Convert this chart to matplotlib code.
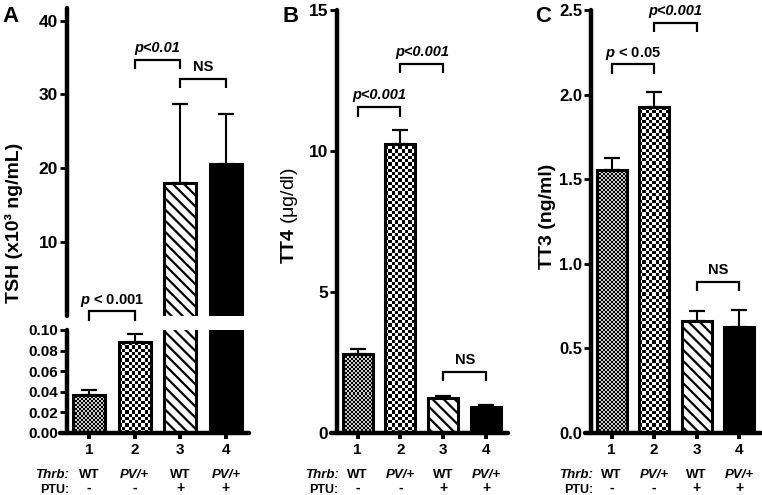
import numpy as np
import matplotlib
matplotlib.use("Agg")
import matplotlib.pyplot as plt
import matplotlib.transforms as mtransforms

plt.rcParams.update({
    "font.family": ["Liberation Sans", "DejaVu Sans"],
    "font.weight": "bold",
    "mathtext.fontset": "custom",
    "mathtext.it": "Liberation Sans:italic:bold",
    "mathtext.bf": "Liberation Sans:bold",
    "mathtext.rm": "Liberation Sans",
    "hatch.linewidth": 1.6,
})

# ---------------- data ----------------
groups = ["1", "2", "3", "4"]
thrb = ["WT", "PV/+", "WT", "PV/+"]
ptu = ["-", "-", "+", "+"]

tsh_mean = [0.037, 0.088, 18.0, 20.6]     # x10^3 ng/mL
tsh_err = [0.005, 0.008, 10.7, 6.7]
tt4_mean = [2.80, 10.25, 1.23, 0.93]      # ug/dl
tt4_err = [0.18, 0.49, 0.09, 0.06]
tt3_mean = [1.555, 1.925, 0.662, 0.628]   # ng/ml
tt3_err = [0.070, 0.092, 0.061, 0.099]

tsh_sig_low = [(1, 2, 0.118, "$p$ < 0.001")]
tsh_sig_up = [(2, 3, 34.7, "p<0.01"), (3, 4, 32.1, "NS")]
tt4_sig = [(1, 2, 11.56, "p<0.001"), (2, 3, 13.09, "p<0.001"), (3, 4, 2.17, "NS")]
tt3_sig = [(1, 2, 2.179, "$p$ < 0.05"), (2, 3, 2.425, "p<0.001"), (3, 4, 0.894, "NS")]

patterns = ["fine", "check", "hatch", "solid"]

# ---------------- figure ----------------
W, H = 762, 495
fig = plt.figure(figsize=(W / 100, H / 100), dpi=100)


def axes_px(l, r, top, bottom):
    return fig.add_axes([l / W, 1 - bottom / H, (r - l) / W, (bottom - top) / H])


XL = (0.37, 4.5)
SPX = 0.52
BW = 0.70


def style_axes(ax, ylim, yticks, ylabels, fs, bottom=True):
    ax.set_xlim(*XL)
    ax.set_ylim(*ylim)
    ax.patch.set_visible(False)
    for s in ["top", "right"]:
        ax.spines[s].set_visible(False)
    ax.spines["left"].set_position(("data", SPX))
    ax.spines["left"].set_linewidth(3.2)
    ax.spines["left"].set_capstyle("round")
    ax.set_yticks(yticks)
    ax.set_yticklabels(ylabels)
    ax.tick_params(axis="y", length=5, width=2, pad=1.5, labelsize=fs)
    if bottom:
        ax.spines["bottom"].set_linewidth(3.2)
        ax.spines["bottom"].set_capstyle("round")
        ax.set_xticks([1, 2, 3, 4])
        ax.set_xticklabels(groups)
        ax.tick_params(axis="x", length=4.5, width=2.8, pad=3, labelsize=11)
    else:
        ax.spines["bottom"].set_visible(False)
        ax.set_xticks([])


def add_checker(ax, patch, cell_px, lo, hi):
    x0, y0 = patch.get_x(), patch.get_y()
    w, h = patch.get_width(), patch.get_height()
    ylo, yhi = ax.get_ylim()
    ya, yb = max(y0, ylo), min(y0 + h, yhi)
    if yb <= ya:
        return
    p0 = ax.transData.transform((x0, ya))
    p1 = ax.transData.transform((x0 + w, yb))
    nx = max(1, int(round((p1[0] - p0[0]) / cell_px)))
    ny = max(1, int(round((p1[1] - p0[1]) / cell_px)))
    arr = (np.add.outer(np.arange(ny), np.arange(nx)) % 2) * (hi - lo) + lo
    im = ax.imshow(arr, extent=(x0, x0 + w, ya, yb), origin="lower", cmap="gray",
                   vmin=0, vmax=1, interpolation="nearest", aspect="auto", zorder=1)
    im.set_clip_path(patch)


def draw_bars(ax, means, errs, show, base=0.0):
    xs = [i + 1 for i in range(len(means)) if show[i]]
    ms = [means[i] for i in range(len(means)) if show[i]]
    es = [errs[i] for i in range(len(means)) if show[i]]
    pats = [patterns[i] for i in range(len(means)) if show[i]]
    face = {"fine": "none", "check": "none", "hatch": "white", "solid": "black"}
    bars = ax.bar(xs, [m - base for m in ms], BW, bottom=base,
                  color=[face[p] for p in pats], edgecolor="black", linewidth=2.2, zorder=2)
    for b, p in zip(bars, pats):
        if p == "hatch":
            b.set_hatch("\\\\\\")
    ylim = ax.get_ylim()
    for b, p in zip(bars, pats):
        if p == "fine":
            add_checker(ax, b, 2.0, 0.0, 0.8)
        elif p == "check":
            add_checker(ax, b, 3.2, 0.0, 1.0)
    ax.set_ylim(*ylim)
    ax.set_xlim(*XL)
    ax.errorbar(xs, ms, yerr=[np.zeros(len(es)), es], fmt="none", ecolor="black",
                elinewidth=1.5, capsize=5.8, capthick=1.6, zorder=3)


def bracket(ax, i, j, y, label, drop_px=9.5, fs=10.5):
    inv = ax.transData.inverted()
    py = ax.transData.transform((0, y))[1]
    yd = inv.transform((0, py - drop_px))[1]
    ax.plot([i, i, j, j], [yd, y, y, yd], color="black", lw=1.6, clip_on=False,
            solid_joinstyle="miter", solid_capstyle="butt")
    italic = label.startswith("p<")
    ax.annotate(label, xy=((i + j) / 2, y), xytext=(0, 5.5), textcoords="offset points",
                ha="center", va="baseline", fontsize=fs, fontweight="bold",
                fontstyle="italic" if italic else "normal", annotation_clip=False)


def bottom_rows(ax):
    tr = mtransforms.blended_transform_factory(ax.transData, fig.transFigure)
    ax.text(SPX + 0.04, 1 - 478 / H, "Thrb:", transform=tr, ha="right", va="baseline",
            fontsize=9.5, fontstyle="italic")
    ax.text(SPX + 0.04, 1 - 493 / H, "PTU:", transform=tr, ha="right", va="baseline",
            fontsize=9)
    for k in range(4):
        ax.text(k + 1, 1 - 478 / H, thrb[k], transform=tr, ha="center", va="baseline",
                fontsize=9.5, fontstyle="normal" if thrb[k] == "WT" else "italic")
        ax.text(k + 1, 1 - 492 / H, ptu[k], transform=tr, ha="center", va="baseline",
                fontsize=10)


# ---------------- panel A (broken axis) ----------------
axA_low = axes_px(60.2, 248.8, 330, 433)
style_axes(axA_low, (0, 0.10), [0, 0.02, 0.04, 0.06, 0.08, 0.10],
           ["0.00", "0.02", "0.04", "0.06", "0.08", "0.10"], 11)
axA_up = axes_px(60.2, 248.8, 7.5, 315.5)
style_axes(axA_up, (0, 41.8), [10, 20, 30, 40], ["10", "20", "30", "40"], 12.5, bottom=False)

draw_bars(axA_low, tsh_mean, tsh_err, [True] * 4)
draw_bars(axA_up, tsh_mean, tsh_err, [m > 0.10 for m in tsh_mean], base=-2.0)
for s in tsh_sig_low:
    bracket(axA_low, *s)
for s in tsh_sig_up:
    bracket(axA_up, *s)
bottom_rows(axA_low)

# ---------------- panel B ----------------
axB = axes_px(330.7, 507.5, 10, 433)
style_axes(axB, (0, 15), [0, 5, 10, 15], ["0", "5", "10", "15"], 12.5)
draw_bars(axB, tt4_mean, tt4_err, [True] * 4)
for s in tt4_sig:
    bracket(axB, *s)
bottom_rows(axB)

# ---------------- panel C ----------------
axC = axes_px(584.9, 760.5, 10, 433)
style_axes(axC, (0, 2.5), [0, 0.5, 1.0, 1.5, 2.0, 2.5],
           ["0.0", "0.5", "1.0", "1.5", "2.0", "2.5"], 12)
draw_bars(axC, tt3_mean, tt3_err, [True] * 4)
for s in tt3_sig:
    bracket(axC, *s)
bottom_rows(axC)

# ---------------- labels ----------------
fig.text(14 / W, 1 - 223 / H, "TSH (x10³ ng/mL)", rotation=90, ha="center", va="center",
         fontsize=14, fontweight="bold")
fig.text(290 / W, 1 - 216 / H, r"$\mathbf{TT4}$ (μg/dl)", rotation=90, ha="center",
         va="center", fontsize=14, fontweight="normal")
fig.text(547 / W, 1 - 216 / H, "TT3 (ng/ml)", rotation=90, ha="center", va="center",
         fontsize=14, fontweight="bold")

for lx, lt in [(2, "A"), (282, "B"), (535, "C")]:
    fig.text(lx / W, 1 - 22 / H, lt, ha="left", va="baseline", fontsize=16, fontweight="bold")

fig.savefig("out.png", dpi=100)
